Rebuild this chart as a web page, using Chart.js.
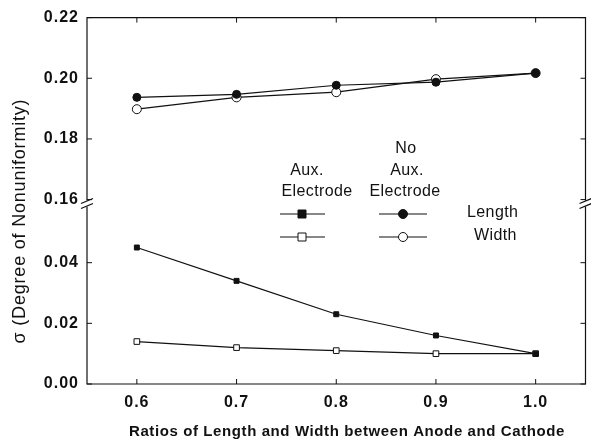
<!DOCTYPE html>
<html><head><meta charset="utf-8">
<script src="https://cdn.jsdelivr.net/npm/chart.js@4.4.0/dist/chart.umd.min.js"></script>
<style>html,body{margin:0;padding:0;background:#fff}#wrap{width:591px;height:444px;position:relative}</style>
</head><body><div id="wrap"><canvas id="c"></canvas></div>
<script>
const RATIOS = [0.6, 0.7, 0.8, 0.9, 1.0];
const AUX_LENGTH = [0.045, 0.034, 0.023, 0.016, 0.010];
const AUX_WIDTH = [0.014, 0.012, 0.011, 0.010, 0.010];
const NOAUX_LENGTH = [0.1937, 0.1947, 0.1977, 0.1987, 0.2017];
const NOAUX_WIDTH = [0.1898, 0.1937, 0.1954, 0.1997, 0.2017];
const X_TICKS = [0.6, 0.7, 0.8, 0.9, 1.0];
const UPPER_TICKS = [0.16, 0.18, 0.20, 0.22];
const LOWER_TICKS = [0.00, 0.02, 0.04];

const pts = arr => RATIOS.map((x,i)=>({x, y:arr[i]}));
const INK = '#111';
const FAM = '"Liberation Sans", Arial, sans-serif';

function ds(label, arr, axis, shape, filled, r){
  return {label, data:pts(arr), yAxisID:axis, borderColor:INK, borderWidth:1.2,
    pointStyle:shape, pointRadius:r, pointBorderWidth:1, pointBorderColor:INK,
    pointBackgroundColor: filled ? INK : '#fff', fill:false, tension:0};
}

function marker(ctx, x, y, shape, filled){
  ctx.beginPath();
  if(shape==='rect') ctx.rect(x-4, y-4, 8, 8); else ctx.arc(x, y, 4.5, 0, Math.PI*2);
  ctx.fillStyle = filled ? INK : '#fff'; ctx.fill();
  ctx.lineWidth = 1; ctx.strokeStyle = INK; ctx.stroke();
}

const decor = {
  id:'decor',
  beforeDraw(chart){ chart.ctx.letterSpacing = '1px'; },
  beforeDatasetsDraw(chart){ chart.ctx.letterSpacing = '0px'; },
  afterDraw(chart){
    const {ctx, chartArea:a, scales} = chart;
    const brk = scales.yTop.bottom;
    ctx.save();
    ctx.strokeStyle = INK; ctx.lineWidth = 1.2;
    // frame with gaps at the break
    ctx.beginPath();
    ctx.moveTo(a.left, brk-3); ctx.lineTo(a.left, a.top); ctx.lineTo(a.right, a.top); ctx.lineTo(a.right, brk-3);
    ctx.moveTo(a.left, brk+3); ctx.lineTo(a.left, a.bottom); ctx.lineTo(a.right, a.bottom); ctx.lineTo(a.right, brk+3);
    ctx.stroke();
    // break marks
    ctx.beginPath();
    [a.left, a.right].forEach(x=>{
      ctx.moveTo(x-6, brk); ctx.lineTo(x+6, brk-5);
      ctx.moveTo(x-6, brk+5); ctx.lineTo(x+6, brk);
    });
    ctx.stroke();
    // inward ticks
    ctx.lineWidth = 1;
    ctx.beginPath();
    scales.x.ticks.forEach(t=>{
      const x = scales.x.getPixelForValue(t.value);
      ctx.moveTo(x, a.bottom); ctx.lineTo(x, a.bottom-5);
      ctx.moveTo(x, a.top); ctx.lineTo(x, a.top+5);
    });
    [scales.yTop, scales.yBot].forEach(s=>s.ticks.forEach(t=>{
      const y = s.getPixelForValue(t.value);
      ctx.moveTo(a.left, y); ctx.lineTo(a.left+5, y);
      ctx.moveTo(a.right, y); ctx.lineTo(a.right-5, y);
    }));
    ctx.stroke();
    // x title
    ctx.fillStyle = INK;
    ctx.textAlign = 'center'; ctx.textBaseline = 'middle';
    ctx.font = 'bold 15px ' + FAM;
    ctx.letterSpacing = '0.6px';
    ctx.fillText('Ratios of Length and Width between Anode and Cathode', 347, 432);
    // y title
    ctx.font = '18px ' + FAM;
    ctx.letterSpacing = '0.8px';
    ctx.translate(20, 221); ctx.rotate(-Math.PI/2);
    ctx.fillText('σ (Degree of Nonuniformity)', 0, 0);
    ctx.restore();
    // legend
    ctx.save();
    ctx.fillStyle = INK;
    ctx.font = '16px ' + FAM;
    ctx.letterSpacing = '0.4px';
    ctx.textAlign = 'center'; ctx.textBaseline = 'middle';
    ctx.fillText('Aux.', 307, 171);
    ctx.fillText('Electrode', 317, 192);
    ctx.fillText('No', 406, 149);
    ctx.fillText('Aux.', 407, 171);
    ctx.fillText('Electrode', 405, 192);
    ctx.textAlign = 'left';
    ctx.fillText('Length', 467, 213);
    ctx.fillText('Width', 474, 236);
    ctx.letterSpacing = '0px';
    ctx.strokeStyle = INK; ctx.lineWidth = 1.2;
    ctx.beginPath();
    ctx.moveTo(280, 214); ctx.lineTo(325, 214);
    ctx.moveTo(280, 237); ctx.lineTo(325, 237);
    ctx.moveTo(379, 214); ctx.lineTo(427, 214);
    ctx.moveTo(379, 237); ctx.lineTo(427, 237);
    ctx.stroke();
    marker(ctx, 302, 214, 'rect', true);
    marker(ctx, 302, 237, 'rect', false);
    marker(ctx, 403, 214, 'circle', true);
    marker(ctx, 403, 237, 'circle', false);
    ctx.restore();
  }
};

const tickFont = {family:FAM, size:16, weight:'bold'};
const yAxis = (min, max, list, weight) => ({
  type:'linear', position:'left', stack:'brk', stackWeight:weight, min, max,
  afterBuildTicks:s=>{ s.ticks = list.map(v=>({value:v})); },
  afterFit:s=>{ s.width = 87; },
  grid:{display:false, drawTicks:false}, border:{display:false},
  ticks:{padding:8, font:tickFont, color:INK, callback:v=>v.toFixed(2)}
});

new Chart(document.getElementById('c'), {
  type:'line',
  data:{datasets:[
    ds('Aux. Electrode Length', AUX_LENGTH, 'yBot', 'rect', true, 3.5),
    ds('Aux. Electrode Width', AUX_WIDTH, 'yBot', 'rect', false, 4),
    ds('No Aux. Electrode Length', NOAUX_LENGTH, 'yTop', 'circle', true, 4),
    ds('No Aux. Electrode Width', NOAUX_WIDTH, 'yTop', 'circle', false, 4.5)
  ]},
  options:{
    responsive:true, maintainAspectRatio:false, animation:false,
    layout:{padding:{top:15, right:-4, left:0, bottom:0}},
    plugins:{legend:{display:false}, tooltip:{enabled:false}},
    scales:{
      x:{type:'linear', min:0.55, max:1.05,
        afterBuildTicks:s=>{ s.ticks = X_TICKS.map(v=>({value:v})); },
        afterFit:s=>{ s.height = 60; },
        grid:{display:false, drawTicks:false}, border:{display:false},
        ticks:{padding:9, font:tickFont, color:INK, callback:v=>v.toFixed(1)}
      },
      yBot: yAxis(0, 0.0595, LOWER_TICKS, 0.0595),
      yTop: yAxis(0.1587, 0.22, UPPER_TICKS, 0.0613)
    }
  },
  plugins:[decor]
});
</script>
</body></html>
